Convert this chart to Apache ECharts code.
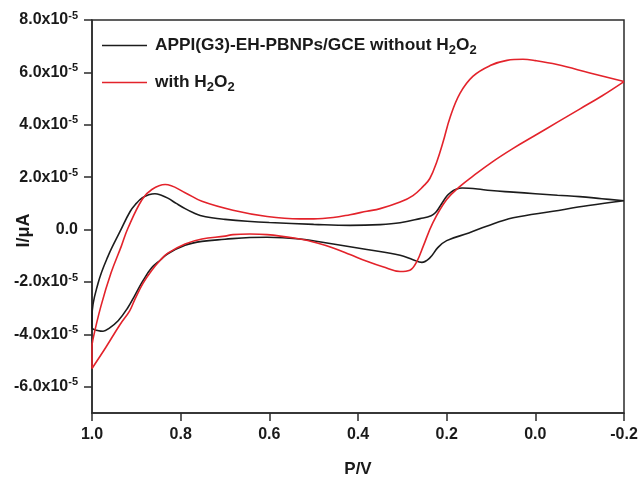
<!DOCTYPE html>
<html>
<head>
<meta charset="utf-8">
<script src="https://cdn.jsdelivr.net/npm/echarts@6/dist/echarts.min.js"></script>
<style>
  html, body { margin: 0; padding: 0; background: #ffffff; }
  #chart { width: 641px; height: 477px; }
</style>
</head>
<body>
<div id="chart"></div>
<script>
// Cyclic voltammograms: potential (V) and current (x10^-5 A), listed in loop order.
const blackPotential = [
  -0.2, -0.15, -0.1, -0.05, 0.0, 0.05, 0.1, 0.13, 0.15, 0.165, 0.18, 0.19, 0.2, 0.215, 0.225, 0.235,
  0.26, 0.305, 0.35, 0.418, 0.5, 0.6, 0.65, 0.7, 0.73, 0.756, 0.77, 0.79, 0.81, 0.829, 0.845, 0.858, 0.872,
  0.887, 0.9, 0.914, 0.937, 0.964, 0.986, 1.0,
  1.0, 0.985, 0.975, 0.96, 0.941, 0.92, 0.903, 0.885, 0.865, 0.845, 0.829, 0.79, 0.752, 0.7, 0.644, 0.605,
  0.531, 0.456, 0.38, 0.305, 0.276, 0.256, 0.238, 0.22, 0.2, 0.15, 0.11, 0.05, -0.04, -0.12, -0.2
];
const blackCurrent = [
  1.1, 1.18, 1.26, 1.31, 1.37, 1.43, 1.49, 1.55, 1.58, 1.59, 1.53, 1.43, 1.27, 0.89, 0.65, 0.53,
  0.42, 0.26, 0.19, 0.16, 0.2, 0.27, 0.32, 0.39, 0.45, 0.54, 0.63, 0.8, 1.0, 1.2, 1.32, 1.37, 1.33,
  1.21, 1.0, 0.69, -0.08, -1.02, -2.03, -3.3,
  -3.75, -3.86, -3.88, -3.75, -3.48, -3.0, -2.5, -1.95, -1.45, -1.15, -0.92, -0.6, -0.45, -0.37, -0.3, -0.29,
  -0.36, -0.55, -0.76, -0.98, -1.15, -1.25, -1.08, -0.69, -0.42, -0.13, 0.13, 0.45, 0.7, 0.92, 1.1
];
const redPotential = [
  -0.2, -0.123, -0.049, 0.0, 0.028, 0.064, 0.102, 0.141, 0.17, 0.192, 0.208, 0.222, 0.238, 0.253, 0.276,
  0.305, 0.35, 0.38, 0.418, 0.456, 0.5, 0.531, 0.605, 0.682, 0.752, 0.79, 0.835, 0.865, 0.887, 0.919, 0.934,
  0.957, 0.98, 0.998, 1.0,
  1.0, 0.969, 0.937, 0.915, 0.903, 0.885, 0.865, 0.845, 0.829, 0.79, 0.752, 0.7, 0.682, 0.644, 0.605,
  0.531, 0.492, 0.456, 0.418, 0.38, 0.344, 0.305, 0.283, 0.267, 0.253, 0.231, 0.2, 0.17, 0.14, 0.1,
  0.05, 0.0, -0.05, -0.1, -0.15, -0.2
];
const redCurrent = [
  5.65, 5.98, 6.3, 6.45, 6.5, 6.46, 6.26, 5.85, 5.2, 4.3, 3.35, 2.6, 1.95, 1.65, 1.3,
  1.05, 0.8, 0.7, 0.57, 0.46, 0.41, 0.41, 0.5, 0.74, 1.08, 1.41, 1.72, 1.53, 1.15, 0.05, -0.64,
  -1.65, -2.93, -4.2, -4.5,
  -5.3, -4.5, -3.63, -3.1, -2.65, -2.05, -1.55, -1.15, -0.9, -0.55, -0.36, -0.25, -0.19, -0.17, -0.19,
  -0.36, -0.51, -0.7, -0.95, -1.21, -1.42, -1.6, -1.55, -1.21, -0.64, 0.27, 1.15, 1.65, 2.05, 2.55,
  3.1, 3.6, 4.1, 4.6, 5.1, 5.65
];
const currentTicks = [-6, -4, -2, 0, 2, 4, 6, 8];
const seriesNames = ['APPI(G3)-EH-PBNPs/GCE without H2O2', 'with H2O2'];

const pair = (xs, ys) => xs.map((x, i) => [x, ys[i]]);
const font = 'Liberation Sans, Arial, sans-serif';
const frame = '#2b2b2b';
const ink = '#1a1a1a';
const blackLine = '#1c1c1c';
const redLine = '#e3232b';

const chart = echarts.init(document.getElementById('chart'), null, { renderer: 'canvas' });
chart.setOption({
  backgroundColor: '#ffffff',
  animation: false,
  grid: {
    left: 92, right: 17, top: 20, bottom: 64,
    containLabel: false, outerBoundsMode: 'none',
    show: true, borderColor: frame, borderWidth: 1.5, backgroundColor: 'transparent'
  },
  legend: {
    orient: 'vertical',
    left: 102, top: 37, padding: 0,
    itemWidth: 45, itemHeight: 1.6, itemGap: 17,
    icon: 'path://M0,0L45,0L45,1.6L0,1.6Z',
    data: seriesNames,
    formatter: name => name.replace('H2O2', '{t|H}{s|2}{t|O}{s|2}'),
    textStyle: {
      fontFamily: font, fontWeight: 'bold', fontSize: 17.3, color: ink, padding: [0, 0, 0, 3],
      rich: {
        t: { fontFamily: font, fontWeight: 'bold', fontSize: 17.3, color: ink },
        s: { fontFamily: font, fontWeight: 'bold', fontSize: 13, color: ink, padding: [10, 0, 0, 0] }
      }
    }
  },
  xAxis: {
    type: 'value', inverse: true, min: -0.2, max: 1.0, interval: 0.2,
    name: 'P/V', nameLocation: 'middle', nameGap: 48, nameMoveOverlap: false,
    nameTextStyle: { fontFamily: font, fontWeight: 'bold', fontSize: 17, color: ink },
    axisLine: { onZero: false, lineStyle: { color: frame, width: 1.5 } },
    axisTick: { inside: false, length: 8, lineStyle: { color: frame, width: 1.5 } },
    axisLabel: {
      margin: 14, fontFamily: font, fontWeight: 'bold', fontSize: 16, color: ink,
      formatter: v => v.toFixed(1)
    },
    splitLine: { show: false }
  },
  yAxis: {
    type: 'value', min: -7, max: 8,
    name: 'I/\u03bcA', nameLocation: 'middle', nameGap: 59, nameMoveOverlap: false,
    nameTextStyle: { fontFamily: font, fontWeight: 'bold', fontSize: 18, color: ink, padding: [0, 28, 0, 0] },
    axisLine: { show: true, onZero: false, lineStyle: { color: frame, width: 1.5 } },
    axisTick: { show: true, inside: false, length: 8, customValues: currentTicks, lineStyle: { color: frame, width: 1.5 } },
    axisLabel: {
      margin: 14, customValues: currentTicks,
      fontFamily: font, fontWeight: 'bold', fontSize: 16, color: ink,
      formatter: v => v === 0 ? '{m|0.0}' : '{m|' + v.toFixed(1) + 'x10}{p|-5}',
      rich: {
        m: { fontFamily: font, fontWeight: 'bold', fontSize: 16, color: ink },
        p: { fontFamily: font, fontWeight: 'bold', fontSize: 11, color: ink, padding: [0, 0, 9, 0] }
      }
    },
    splitLine: { show: false }
  },
  series: [
    {
      name: seriesNames[0], type: 'line', data: pair(blackPotential, blackCurrent),
      showSymbol: false, symbol: 'none', smooth: 0.4,
      lineStyle: { color: blackLine, width: 1.6 }, itemStyle: { color: blackLine }
    },
    {
      name: seriesNames[1], type: 'line', data: pair(redPotential, redCurrent),
      showSymbol: false, symbol: 'none', smooth: 0.4,
      lineStyle: { color: redLine, width: 1.6 }, itemStyle: { color: redLine }
    }
  ]
});
</script>
</body>
</html>
